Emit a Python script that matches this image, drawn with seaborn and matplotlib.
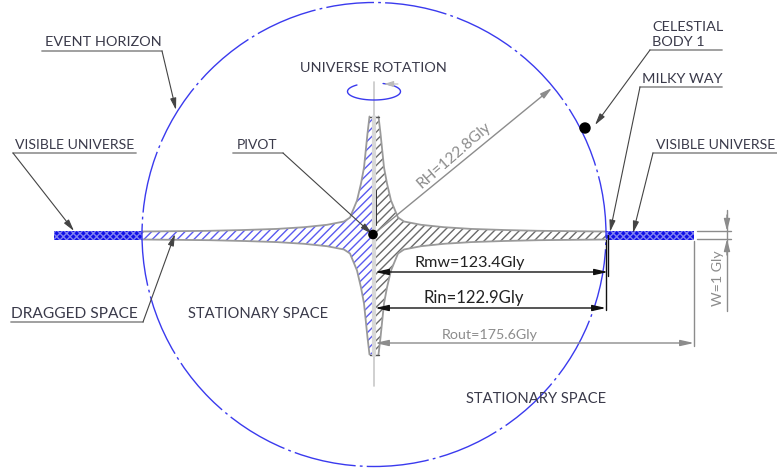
import numpy as np
import pandas as pd
import seaborn as sns
import matplotlib.pyplot as plt
from matplotlib.patches import Ellipse, Rectangle

# profile of the dragged space, distance from axis vs half thickness (px of the drawing)
wing_r = [4.5, 6.5, 10, 13, 17, 24, 30, 47, 70, 97, 130, 164, 200, 232]
wing_h = [119, 102, 68, 52, 35, 18, 14, 10.7, 8.3, 6.6, 5.5, 4.7, 4.3, 4]

center_x = 374
center_y = 235.5
horizon_radius = 232
visible_r = [232, 320]
visible_h = 4.5

labels = ["EVENT HORIZON", "UNIVERSE ROTATION", "PIVOT", "VISIBLE UNIVERSE", "DRAGGED SPACE",
          "STATIONARY SPACE", "STATIONARY SPACE", "CELESTIAL\nBODY 1", "MILKY WAY", "VISIBLE UNIVERSE"]
label_x = [45, 300, 237, 15, 11, 188, 466, 652, 642, 656]
label_y = [42, 68, 145, 145, 314, 314, 399, 34.5, 79, 145]
label_size = [10.4, 10.4, 10, 10.1, 11.2, 10.6, 10.6, 10.4, 10.4, 10.1]

BLUE = "#3a3aee"
GREY = "#8c8c8c"
TXT = "#3a3a4a"
ARROW = "-|>,head_width=0.18,head_length=0.7"

sns.set_theme(style="white")
plt.rcParams["font.family"] = ["Lato", "DejaVu Sans"]
plt.rcParams["hatch.linewidth"] = 1.0

fig, ax = plt.subplots(figsize=(7.77, 4.7), dpi=100)
fig.subplots_adjust(0, 0, 1, 1)
ax.set_xlim(0, 777)
ax.set_ylim(470, 0)
ax.axis("off")

r = np.array(wing_r)
h = np.array(wing_h)

# hatched bodies, left blue and right grey
for sx, col in [(-1, "#5a5af0"), (1, "#6a6a6a")]:
    xs = np.concatenate([[center_x], center_x + sx * r, center_x + sx * r[::-1], [center_x]])
    ys = np.concatenate([[center_y - 119], center_y - h, center_y + h[::-1], [center_y + 119]])
    ax.fill(xs, ys, facecolor="none", edgecolor=col, hatch="////", lw=0, zorder=1)

# outline through seaborn
for sx in (-1, 1):
    for sy in (-1, 1):
        df = pd.DataFrame({"x": center_x + sx * r, "y": center_y + sy * h})
        sns.lineplot(data=df, x="x", y="y", ax=ax, color="#9a9a9a", lw=1.3, sort=False, estimator=None, zorder=2)
ax.set_xlabel("")
ax.set_ylabel("")
for sy in (-1, 1):
    ax.plot([center_x - 4.5, center_x + 4.5], [center_y + sy * 119] * 2, color="#555555", lw=1)

# visible universe strips
for a, b in [(center_x - visible_r[1], center_x - visible_r[0]), (center_x + visible_r[0], center_x + visible_r[1])]:
    ax.add_patch(Rectangle((a, center_y - visible_h), b - a, 2 * visible_h, facecolor="#1010e8",
                           edgecolor="#8080f0", hatch="xxxxx", lw=0, zorder=3))

# axis, wider where it crosses the body
ax.plot([center_x, center_x], [82, 386], color="#c8c8c8", lw=1.2, zorder=2)
ax.plot([center_x, center_x], [center_y - 119, center_y + 119], color="#d8d8d8", lw=3, zorder=2)
ax.plot([center_x + 2, center_x + 2], [190, 225], color="#333333", lw=0.7, zorder=3)

# event horizon
ax.add_patch(Ellipse((center_x, center_y - 1), 2 * horizon_radius, 2 * horizon_radius, fill=False,
                     edgecolor=BLUE, lw=1.0, linestyle=(45, (45, 3, 2, 3)), zorder=4))

# rotation symbol, gap at the top of the ellipse
theta = np.radians(np.arange(290, 594, 4))
ax.plot(374 + 26.5 * np.cos(theta), 91.5 + 8.5 * np.sin(theta), color=BLUE, lw=1.0)
ax.annotate("", xy=(384, 84), xytext=(398, 84),
            arrowprops=dict(arrowstyle="-|>,head_width=0.25,head_length=0.8", color="#bbbbbb", lw=0.8,
                            mutation_scale=7, shrinkA=0, shrinkB=0))

ax.scatter([center_x - 1, 585], [center_y - 1, 128], s=[35, 52], color="black", zorder=6)


def leader(x0, x1, y, tip):
    # underline then arrow
    ax.plot([x0, x1], [y, y], color="#999999", lw=1.3, zorder=5)
    start = x0 if abs(tip[0] - x0) < abs(tip[0] - x1) else x1
    ax.annotate("", xy=tip, xytext=(start, y), zorder=5,
                arrowprops=dict(arrowstyle=ARROW, color="#444444", lw=0.8, mutation_scale=10, shrinkA=0, shrinkB=0))


leader(42, 162, 51, (176, 110))
leader(233, 283, 153, (372, 234))
leader(13, 136, 153, (74, 231))
leader(11, 143, 322, (175, 234))
leader(650, 722, 50, (595, 125))
leader(640, 722, 87, (610, 232))
leader(653, 777, 153, (633, 233))


def dim(x0, x1, y, color):
    ax.annotate("", xy=(x1, y), xytext=(x0, y), zorder=5,
                arrowprops=dict(arrowstyle="<|-|>,head_width=0.18,head_length=0.8", color=color, lw=1.0,
                                mutation_scale=10, shrinkA=0, shrinkB=0))


dim(375, 608, 272, "#111111")
dim(375, 606, 308, "#111111")
dim(375, 694, 343, GREY)
ax.plot([608.3, 608.3], [235, 276], color="#111111", lw=1.0, zorder=5)
ax.plot([606, 606], [240, 310], color="#111111", lw=1.0, zorder=5)
ax.plot([694, 694], [241, 346], color=GREY, lw=1.0)

# RH radius
ax.annotate("", xy=(552, 88), xytext=(375, 233), zorder=5,
            arrowprops=dict(arrowstyle=ARROW, color=GREY, lw=1.0, mutation_scale=10, shrinkA=0, shrinkB=0))

# W dimension
ax.plot([697, 731], [231, 231], color=GREY, lw=1.0)
ax.plot([697, 731], [239, 239], color=GREY, lw=1.0)
ax.plot([727, 727], [210, 311], color=GREY, lw=1.0)
ax.annotate("", xy=(727, 231), xytext=(727, 215),
            arrowprops=dict(arrowstyle=ARROW, color=GREY, lw=1, mutation_scale=10, shrinkA=0, shrinkB=0))
ax.annotate("", xy=(727, 239), xytext=(727, 255),
            arrowprops=dict(arrowstyle=ARROW, color=GREY, lw=1, mutation_scale=10, shrinkA=0, shrinkB=0))

for txt, x, y, fs in zip(labels, label_x, label_y, label_size):
    ax.text(x, y, txt, fontsize=fs, color=TXT, va="center", ha="left", linespacing=1.25, zorder=7)

ax.text(454, 155, "RH=122.8Gly", fontsize=11.2, color=GREY, rotation=41, ha="center", va="center", rotation_mode="anchor")
ax.text(470, 263, "Rmw=123.4Gly", fontsize=11.6, color="#222222", ha="center", va="center")
ax.text(474, 298, "Rin=122.9Gly", fontsize=12, color="#222222", ha="center", va="center")
ax.text(490, 335, "Rout=175.6Gly", fontsize=10.3, color=GREY, ha="center", va="center")
ax.text(718, 278, "W=1 Gly", fontsize=10.2, color=GREY, rotation=90, ha="center", va="center")

fig.savefig("out.png", dpi=100, facecolor="white")
